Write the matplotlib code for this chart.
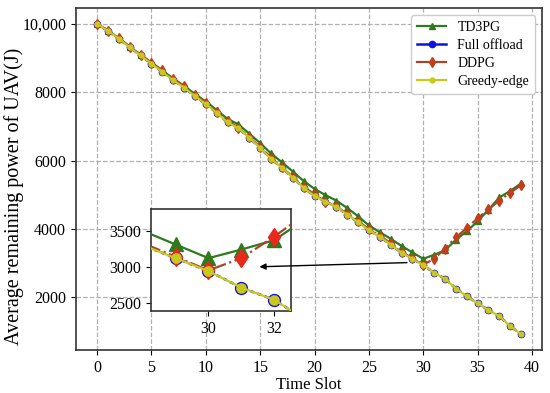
import matplotlib
matplotlib.use("Agg")
import matplotlib.pyplot as plt
from matplotlib.ticker import FuncFormatter

plt.rcParams['font.family'] = ['Liberation Serif', 'DejaVu Serif']

time_slots = list(range(40))
td3pg = [10000, 9810, 9580, 9340, 9100, 8870, 8640, 8400, 8190, 7950,
         7730, 7480, 7220, 7060, 6790, 6510, 6210, 5950, 5680, 5400,
         5170, 4990, 4830, 4610, 4370, 4100, 3900, 3710, 3500, 3310,
         3120, 3240, 3370, 3680, 3930, 4220, 4560, 4920, 5110, 5330]
full_offload = [10000, 9800, 9570, 9320, 9080, 8840, 8600, 8350, 8140, 7890,
                7660, 7400, 7120, 6950, 6670, 6370, 6050, 5790, 5500, 5200,
                4960, 4800, 4640, 4420, 4200, 3960, 3770, 3540, 3300, 3120,
                2940, 2710, 2540, 2250, 2030, 1820, 1620, 1440, 1150, 910]
ddpg = [10000, 9810, 9590, 9340, 9100, 8870, 8640, 8400, 8180, 7930,
        7690, 7430, 7170, 6960, 6680, 6400, 6090, 5800, 5520, 5240,
        5010, 4800, 4660, 4440, 4230, 3990, 3800, 3580, 3330, 3140,
        2950, 3120, 3420, 3750, 4020, 4310, 4570, 4830, 5060, 5280]
greedy_edge = list(full_offload)

labels = ['TD3PG', 'Full offload', 'DDPG', 'Greedy-edge']
x_ticks = [0, 5, 10, 15, 20, 25, 30, 35, 40]
y_ticks = [2000, 4000, 6000, 8000, 10000]
inset_xticks = [30, 32]
inset_yticks = [2500, 3000, 3500]

c_td3 = '#2e7a1c'
c_full = '#1010e0'
c_ddpg_line = '#a5462a'
c_ddpg_mk = '#c0401e'
c_greedy = '#c8c81e'

fig = plt.figure(figsize=(5.5, 3.93), dpi=100)
ax = fig.add_axes([0.138, 0.1094, 0.848, 0.8702])


def draw(a, ms_scale=1.0, inset=False):
    a.plot(time_slots, td3pg, '-', color=c_td3, marker='^', ms=5 * ms_scale,
           lw=1.6, label=labels[0], zorder=3)
    a.plot(time_slots, full_offload, color=c_full, ls=(0, (1.5, 1.5)), marker='o',
           ms=4.5 * ms_scale, lw=1.8, label=labels[1], zorder=3, mfc=c_full, mec=c_full)
    mk = '#e8281a' if inset else c_ddpg_mk
    a.plot(time_slots, ddpg, '-.', color=c_ddpg_line, marker='d', ms=5 * ms_scale,
           lw=1.6, label=labels[2], zorder=4, mfc=mk, mec=mk)
    a.plot(time_slots, greedy_edge, '-', color=c_greedy, marker='o', ms=3.5 * ms_scale,
           lw=1.6, label=labels[3], zorder=5, mfc=c_greedy, mec=c_greedy)


draw(ax)
ax.set_xlim(-1.95, 40.95)
ax.set_ylim(450, 10470)
ax.set_xticks(x_ticks)
ax.set_yticks(y_ticks)
ax.yaxis.set_major_formatter(FuncFormatter(lambda v, p: f"{v:,.0f}" if v >= 10000 else f"{v:.0f}"))
ax.grid(True, linestyle='--', color='#b0b0b0', lw=0.9)
ax.tick_params(labelsize=11.5)
ax.set_xlabel('Time Slot', fontsize=12, labelpad=1)
ax.set_ylabel('Average remaining power of UAV(J)', fontsize=14.5)
ax.yaxis.set_label_coords(-0.112, 0.45)
for s in ax.spines.values():
    s.set_color('#333333')
    s.set_linewidth(1.2)

leg = ax.legend(loc='upper right', fontsize=10, handlelength=2.1,
                borderpad=0.45, labelspacing=0.35, framealpha=1, edgecolor='#cccccc')
for ln in leg.get_lines():
    ln.set_linestyle('-')

axin = fig.add_axes([0.2745, 0.2087, 0.254, 0.2588])
draw(axin, ms_scale=1.9, inset=True)
axin.set_xlim(28.25, 32.5)
axin.set_ylim(2385, 3800)
axin.set_xticks(inset_xticks)
axin.set_yticks(inset_yticks)
axin.tick_params(labelsize=11.5)
for s in axin.spines.values():
    s.set_color('#333333')
    s.set_linewidth(1.2)

axin.annotate('', xy=(31.55, 3000), xycoords='data',
              xytext=(28.5, 3010), textcoords=ax.transData,
              arrowprops=dict(arrowstyle='-|>', color='black', lw=1.0,
                              mutation_scale=9, shrinkA=0, shrinkB=0),
              annotation_clip=False, zorder=10)

fig.savefig('out.png', dpi=100)
